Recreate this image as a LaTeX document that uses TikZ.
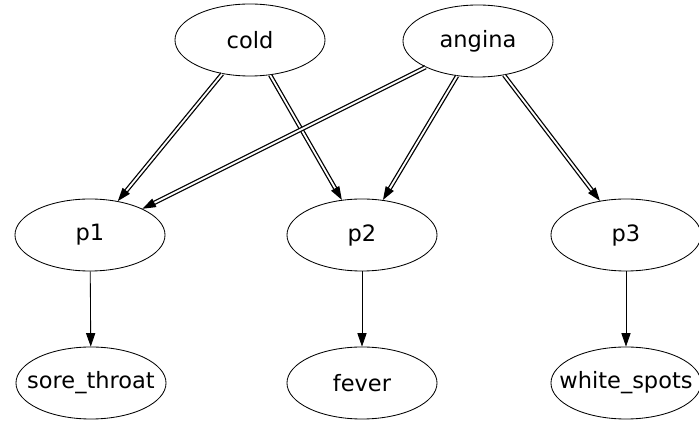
\documentclass[tikz,border=0pt]{standalone}
\usepackage{fontspec}
\setmainfont{DejaVu Sans}
\usetikzlibrary{arrows.meta,shapes.geometric}

\begin{document}
\begin{tikzpicture}[->,>={Triangle[length=9.5pt,width=6.5pt]}
  ,x=0.025cm,y=-0.025cm
  ,line width=0.6pt]
  \tikzstyle{every node}=[ellipse,draw,line width=0.6pt,inner sep=0pt
  ,minimum width=3.75cm,minimum height=1.8cm
  ,font=\fontsize{16}{18}\selectfont]
  \tikzstyle{strong}=[double,double distance=1.3pt,line width=0.9pt]

  \useasboundingbox (0,0) rectangle (699,431);

  \node (cold)   at (250,40)  {cold};
  \node (angina) at (478,41)  {angina};
  \node (p1)     at (90,235)  {p1};
  \node (p2)     at (362,235) {p2};
  \node (p3)     at (626,235) {p3};
  \node (sore)   at (91,383)  {\makebox[0pt]{sore\_throat}};
  \node (fever)  at (362,383) {fever};
  \node (white)  at (626,383) {\makebox[0pt]{white\_spots}};

  \path
  (cold)   edge [strong] (p1)
  (cold)   edge [strong] (p2)
  (angina) edge [strong] (p1)
  (angina) edge [strong] (p2)
  (angina) edge [strong] (p3)
  ;
  \path
  (p1) edge (sore)
  (p2) edge (fever)
  (p3) edge (white)
  ;

\end{tikzpicture}
\end{document}
